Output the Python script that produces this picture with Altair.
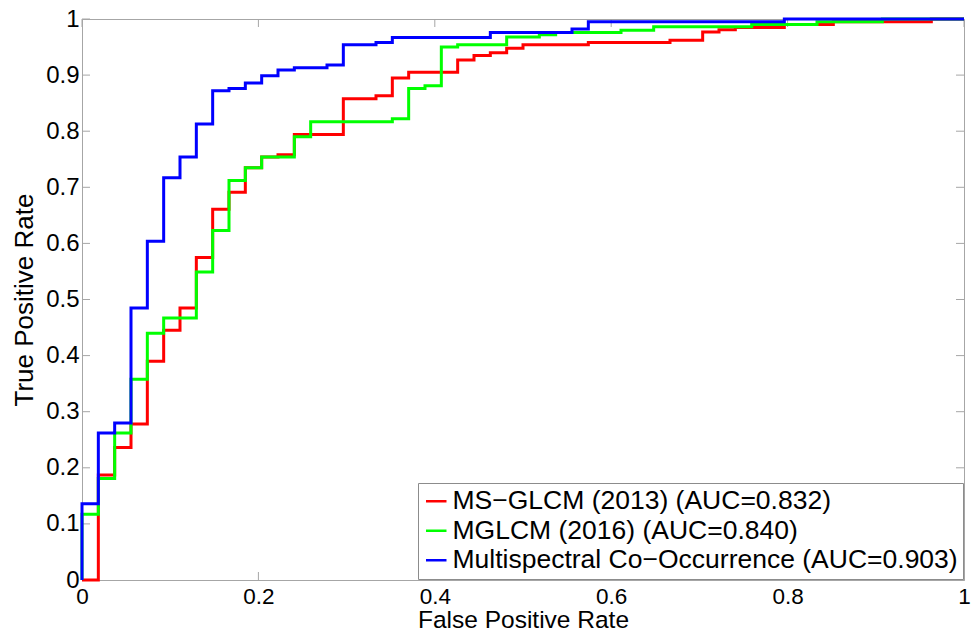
import altair as alt
import pandas as pd

N = 54.0  # FPR grid step is 1/54

names = [
    "MS\u2212GLCM (2013) (AUC=0.832)",
    "MGLCM (2016) (AUC=0.840)",
    "Multispectral Co\u2212Occurrence (AUC=0.903)",
]
colors = ["#ff0000", "#00ff00", "#0000ff"]

# step points: (index on 1/54 grid, TPR after the jump)
red_k = [0, 1, 2, 3, 4, 5, 6, 7, 8, 9, 10, 11, 12, 13, 16, 18, 19, 20, 23, 24, 25, 26, 27, 31, 36, 38, 39, 40, 43, 46, 52, 54]
red_t = [0.0, 0.187, 0.236, 0.278, 0.390, 0.445, 0.485, 0.575, 0.661, 0.691, 0.735, 0.754, 0.758, 0.794, 0.858, 0.863, 0.895, 0.905, 0.927, 0.935, 0.940, 0.948, 0.954, 0.958, 0.962, 0.977, 0.981, 0.985, 0.990, 0.995, 1.0, 1.0]

green_k = [0, 0, 1, 2, 3, 4, 5, 7, 8, 9, 10, 11, 13, 14, 19, 20, 21, 22, 23, 26, 28, 29, 33, 35, 41, 45, 49, 54]
green_t = [0.0, 0.117, 0.181, 0.262, 0.358, 0.440, 0.467, 0.549, 0.623, 0.712, 0.735, 0.754, 0.790, 0.817, 0.822, 0.876, 0.881, 0.950, 0.954, 0.968, 0.972, 0.976, 0.980, 0.986, 0.990, 0.995, 1.0, 1.0]

blue_k = [0, 0, 1, 2, 3, 4, 5, 6, 7, 8, 9, 10, 11, 12, 13, 15, 16, 18, 19, 25, 30, 31, 43, 54]
blue_t = [0.0, 0.136, 0.262, 0.280, 0.485, 0.604, 0.717, 0.754, 0.813, 0.872, 0.876, 0.886, 0.899, 0.909, 0.913, 0.918, 0.954, 0.958, 0.967, 0.976, 0.982, 0.995, 1.0, 1.0]

x_ticks = [0, 0.2, 0.4, 0.6, 0.8, 1]
y_ticks = [0, 0.1, 0.2, 0.3, 0.4, 0.5, 0.6, 0.7, 0.8, 0.9, 1]

rows = []
for name, ks, ts in zip(names, [red_k, green_k, blue_k], [red_t, green_t, blue_t]):
    for i, (k, t) in enumerate(zip(ks, ts)):
        rows.append({"series": name, "fpr": k / N, "tpr": t, "order": i})
df = pd.DataFrame(rows)

W, H = 882, 561
GRAY = "#a6a6a6"
FONT = "Liberation Sans"

xscale = alt.Scale(domain=[0, 1], nice=False, zero=False)
yscale = alt.Scale(domain=[0, 1], nice=False, zero=False)
xaxis = alt.Axis(values=x_ticks, title="False Positive Rate", format="~g", labelFlush=False,
                 labelPadding=5, labelFontSize=22.5, titlePadding=1, titleFontSize=24.5)
yaxis = alt.Axis(values=y_ticks, title="True Positive Rate", format="~g", labelFlush=False,
                 labelPadding=3, labelFontSize=24, titlePadding=8, titleFontSize=26)

color = alt.Color(
    "series:N",
    scale=alt.Scale(domain=names, range=colors),
    legend=alt.Legend(
        title=None,
        orient="bottom-right",
        offset=1,
        padding=5,
        strokeColor="#8c8c8c",
        fillColor="white",
        symbolType="stroke",
        symbolSize=420,
        symbolStrokeWidth=2.5,
        labelFont=FONT,
        labelFontSize=26.5,
        labelColor="black",
        labelLimit=1000,
        rowPadding=2.5,
        labelOffset=3,
    ),
)

base = alt.Chart(df).mark_line(interpolate="step-after", strokeWidth=3, clip=False).encode(
    x=alt.X("fpr:Q", scale=xscale, axis=xaxis),
    y=alt.Y("tpr:Q", scale=yscale, axis=yaxis),
    color=color,
    order="order:Q",
)

lines = [base.transform_filter(alt.datum.series == n) for n in names]

xt = pd.DataFrame({"v": x_ticks})
yt = pd.DataFrame({"v": y_ticks})
tick_bottom = alt.Chart(xt).mark_rule(color=GRAY).encode(
    x=alt.X("v:Q", scale=xscale, axis=xaxis), y=alt.value(H), y2=alt.value(H - 8))
tick_top = alt.Chart(xt).mark_rule(color=GRAY).encode(
    x=alt.X("v:Q", scale=xscale, axis=xaxis), y=alt.value(0), y2=alt.value(8))
tick_left = alt.Chart(yt).mark_rule(color=GRAY).encode(
    y=alt.Y("v:Q", scale=yscale, axis=yaxis), x=alt.value(0), x2=alt.value(8))
tick_right = alt.Chart(yt).mark_rule(color=GRAY).encode(
    y=alt.Y("v:Q", scale=yscale, axis=yaxis), x=alt.value(W), x2=alt.value(W - 8))

chart = alt.layer(tick_bottom, tick_top, tick_left, tick_right, *lines).properties(
    width=W, height=H,
    background="white",
    autosize=alt.AutoSizeParams(type="none"),
    padding={"left": 82, "top": 19, "right": 15, "bottom": 56},
).configure_view(
    stroke=GRAY, strokeWidth=1
).configure_axis(
    domainColor=GRAY, ticks=False, tickSize=0, grid=False,
    labelFont=FONT, labelColor="black",
    titleFont=FONT, titleFontWeight="normal", titleColor="black",
)

chart.save("out.html", embed_options={"renderer": "svg", "actions": False})
